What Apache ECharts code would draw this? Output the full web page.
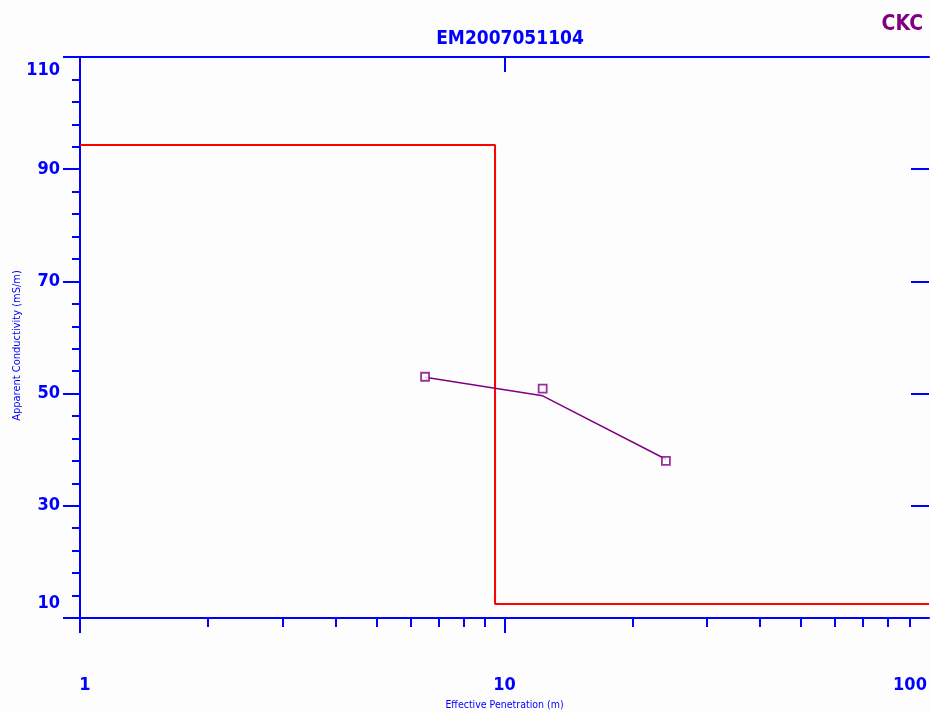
<!DOCTYPE html>
<html>
<head>
<meta charset="utf-8">
<script src="https://cdn.jsdelivr.net/npm/echarts@6/dist/echarts.min.js"></script>
<style>
  html, body { margin: 0; padding: 0; background: #fdfdfd; }
  #chart { width: 930px; height: 713px; }
</style>
</head>
<body>
<div id="chart"></div>
<script>
// Layered earth model: boundaries (m) and conductivity of each layer (mS/m)
const modelDepths = [1, 9.5, 100];
const modelConductivity = [94.3, 12.5];

// Measured apparent conductivity (squares)
const obsPenetration = [6.5, 12.3, 24.0];
const obsConductivity = [53.0, 50.9, 38.0];

// Calculated response of the model (line)
const calcPenetration = [6.5, 12.3, 24.0];
const calcConductivity = [52.9, 49.6, 38.3];

// Axis ticks
const yTicks = [10, 30, 50, 70, 90, 110];
const xMajorTicks = [1, 10];
const xMinorTicks = [2, 3, 4, 5, 6, 7, 8, 9, 20, 30, 40, 50, 60, 70, 80, 90];

const BLUE = '#0000ff';
const PURPLE = '#800080';
const RED = '#ff0000';
const NARROW = "'Liberation Sans Narrow', 'DejaVu Sans Condensed', 'Arial Narrow', sans-serif";

// step line: each layer's value holds until the next boundary
const modelData = modelDepths.map((d, i) => [d, modelConductivity[Math.min(i, modelConductivity.length - 1)]]);
const obsData = obsPenetration.map((x, i) => [x, obsConductivity[i]]);
const calcData = calcPenetration.map((x, i) => [x, calcConductivity[i]]);

const tickFont = { fontFamily: NARROW, fontWeight: 'bold', fontSize: 18, color: BLUE };

const chart = echarts.init(document.getElementById('chart'), null, { renderer: 'canvas' });

chart.setOption({
  backgroundColor: '#fdfdfd',
  animation: false,
  title: [
    {
      text: 'EM2007051104',
      left: 505, top: 25, textAlign: 'center',
      textStyle: { fontFamily: NARROW, fontWeight: 'bold', fontSize: 19, color: BLUE }
    },
    {
      text: 'CKC',
      right: 2, top: 9,
      textStyle: { fontFamily: NARROW, fontWeight: 'bold', fontSize: 21, color: PURPLE }
    }
  ],
  grid: { left: 80, top: 57, width: 849, height: 561, containLabel: false, outerBoundsMode: 'none' },
  xAxis: [
    {
      type: 'log', logBase: 10, min: 1, max: 100, position: 'bottom',
      name: 'Effective Penetration (m)', nameLocation: 'middle', nameGap: 82, nameMoveOverlap: false,
      nameTextStyle: { fontFamily: NARROW, fontSize: 10.5, color: BLUE },
      axisLine: { show: true, lineStyle: { color: BLUE, width: 2 } },
      axisTick: { show: true, length: 15, customValues: xMajorTicks, lineStyle: { color: BLUE, width: 2 } },
      axisLabel: {
        margin: 58,
        ...tickFont,
        formatter: v => v === 1 ? '{first|1}' : v === 100 ? '{last|100}' : '{n|' + v + '}',
        rich: {
          first: { ...tickFont, padding: [0, 0, 0, 10] },
          last: { ...tickFont, padding: [0, 38, 0, 0] },
          n: { ...tickFont }
        }
      },
      splitLine: { show: false }
    },
    {
      type: 'log', logBase: 10, min: 1, max: 100, position: 'bottom',
      axisLine: { show: false },
      axisTick: { show: true, length: 9, customValues: xMinorTicks, lineStyle: { color: BLUE, width: 2 } },
      axisLabel: { show: false },
      splitLine: { show: false }
    },
    {
      type: 'log', logBase: 10, min: 1, max: 100, position: 'top',
      axisLine: { show: true, lineStyle: { color: BLUE, width: 2 } },
      axisTick: { show: true, inside: true, length: 15, customValues: [10], lineStyle: { color: BLUE, width: 2 } },
      axisLabel: { show: false },
      splitLine: { show: false }
    }
  ],
  yAxis: [
    {
      type: 'value', min: 10, max: 110, interval: 20, position: 'left',
      name: 'Apparent Conductivity (mS/m)', nameLocation: 'middle', nameGap: 57, nameMoveOverlap: false,
      nameTextStyle: { fontFamily: NARROW, fontSize: 11, color: BLUE, padding: [0, 16, 0, 0] },
      axisLine: { show: true, lineStyle: { color: BLUE, width: 2 } },
      axisTick: { show: true, length: 17, lineStyle: { color: BLUE, width: 2 } },
      minorTick: { show: true, splitNumber: 5, length: 8, lineStyle: { color: BLUE, width: 2 } },
      axisLabel: {
        margin: 20,
        ...tickFont,
        formatter: v => v === 110 ? '{top|110}' : v === 10 ? '{bot|10}' : '{n|' + v + '}',
        rich: {
          top: { ...tickFont, padding: [26, 0, 0, 0] },
          bot: { ...tickFont, padding: [0, 0, 30, 0] },
          n: { ...tickFont }
        }
      },
      splitLine: { show: false }
    },
    {
      type: 'value', min: 10, max: 110, interval: 20, position: 'right',
      axisLine: { show: false },
      axisTick: { show: true, inside: true, length: 18, customValues: yTicks.slice(1, -1), lineStyle: { color: BLUE, width: 2 } },
      axisLabel: { show: false },
      splitLine: { show: false }
    }
  ],
  series: [
    {
      name: 'Model',
      type: 'line', step: 'end',
      xAxisIndex: 0, yAxisIndex: 0,
      data: modelData,
      showSymbol: false, symbol: 'none',
      lineStyle: { color: RED, width: 2 },
      z: 3
    },
    {
      name: 'Calculated',
      type: 'line',
      xAxisIndex: 0, yAxisIndex: 0,
      data: calcData,
      showSymbol: false, symbol: 'none',
      lineStyle: { color: PURPLE, width: 1.5 },
      z: 4
    },
    {
      name: 'Observed',
      type: 'scatter',
      xAxisIndex: 0, yAxisIndex: 0,
      data: obsData,
      symbol: 'rect', symbolSize: 8,
      itemStyle: { color: '#fdfdfd', borderColor: PURPLE, borderWidth: 1.8 },
      z: 5
    }
  ]
});
</script>
</body>
</html>
